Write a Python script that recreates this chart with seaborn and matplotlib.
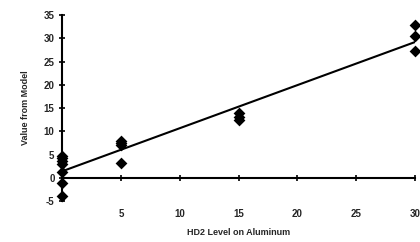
import numpy as np
import pandas as pd
import seaborn as sns
import matplotlib
matplotlib.use("Agg")
import matplotlib.pyplot as plt

# values
hd2_level = [0, 0, 0, 0, 0, 0, 0, 5, 5, 5, 5, 15, 15, 15, 30, 30, 30]
model_value = [4.8, 4.2, 3.6, 3.0, 1.2, -1.2, -3.8,
               8.0, 7.5, 7.0, 3.2,
               14.0, 13.0, 12.5,
               32.8, 30.5, 27.2]
x_ticks = [5, 10, 15, 20, 25, 30]
y_ticks = [-5, 0, 5, 10, 15, 20, 25, 30, 35]

df = pd.DataFrame({"level": hd2_level, "value": model_value})

sns.set_style("white")
plt.rcParams["font.family"] = ["Liberation Sans", "DejaVu Sans"]
plt.rcParams["font.weight"] = "bold"

fig = plt.figure(figsize=(4.2, 2.42), dpi=100)
ax = fig.add_axes([0.148, 0.169, 0.840, 0.769])

sns.regplot(data=df, x="level", y="value", ax=ax, ci=None, truncate=True,
            marker="D", color="black",
            scatter_kws=dict(s=36, linewidths=0, alpha=1, clip_on=False, zorder=4),
            line_kws=dict(lw=1.5))

ax.set_xlim(0, 30)
ax.set_ylim(-5, 35)
ax.set_yticks(y_ticks)
ax.set_yticklabels([str(v) for v in y_ticks], fontsize=7, fontweight="bold")
ax.set_xticks(x_ticks)
ax.set_xticklabels([str(v) for v in x_ticks], fontsize=7, fontweight="bold")
ax.tick_params(axis="x", bottom=True, length=0, pad=6)
ax.tick_params(axis="y", left=True, direction="inout", length=5, width=1.2,
               pad=3, color="black")

for side in ["top", "right", "bottom"]:
    ax.spines[side].set_visible(False)
ax.spines["left"].set_linewidth(1.5)
ax.spines["left"].set_color("black")

# x axis line crossing at y = 0
zero_frac = (0 - (-5)) / 40
sec = ax.secondary_xaxis(zero_frac)
sec.set_xticks(x_ticks)
sec.set_xticklabels([])
sec.tick_params(bottom=True, direction="inout", length=5, width=1.2, color="black")
sec.spines["bottom"].set_linewidth(1.5)
sec.spines["bottom"].set_color("black")

ax.set_xlabel("HD2 Level on Aluminum", fontsize=6.5, fontweight="bold", labelpad=6)
ax.set_ylabel("Value from Model", fontsize=6.5, fontweight="bold", labelpad=10)

fig.savefig("out.png", dpi=100)
